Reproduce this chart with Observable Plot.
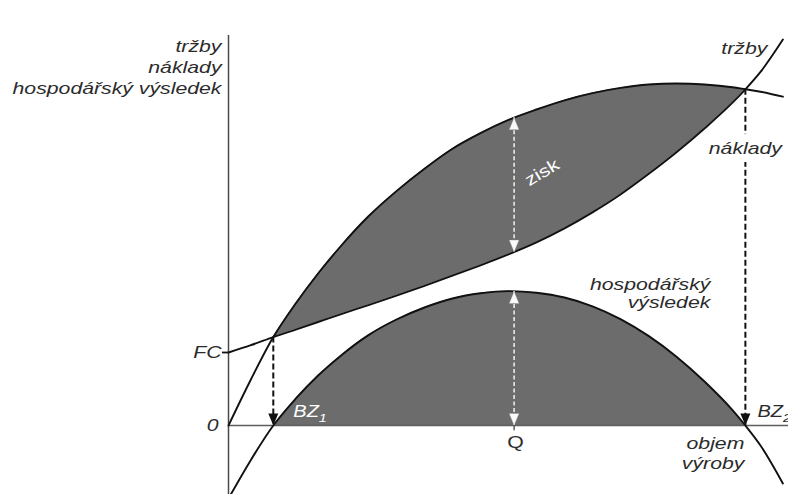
<!DOCTYPE html>
<html>
<head>
<meta charset="utf-8">
<script src="https://cdn.jsdelivr.net/npm/d3@7"></script>
<script src="https://cdn.jsdelivr.net/npm/@observablehq/plot@0.6"></script>
<style>
  body { margin: 0; background: #fff; }
  #chart svg { display: block; }
</style>
</head>
<body>
<div id="chart"></div>
<script>
// ---- data (quantity units / money units) ----
const quantity = [0, 4, 8, 12, 16, 20, 25, 30, 35, 40, 45, 50, 55, 60, 65, 70, 75, 80, 85, 90, 92.3, 95, 99];
const revenue  = [0, 11.5, 22.1, 30.5, 38, 44.75, 52.3, 58.6, 64.2, 69.2, 73.1, 76.4, 79, 81.3, 83.1, 84.4, 85.25, 85.5, 85.25, 84.55, 84.05, 83.45, 82.2];
const costs    = [18.25, 20.08, 22.1, 23.98, 25.88, 27.8, 30.1, 32.48, 34.93, 37.45, 40.05, 42.78, 45.78, 49.28, 53.28, 57.75, 62.85, 68.3, 74.25, 80.7, 84.05, 88.4, 96.5];
const result   = [-18.25, -8.6, 0, 6.7, 12.5, 17.4, 22.6, 26.5, 29.5, 31.75, 33.05, 33.6, 33.2, 32.0, 29.8, 26.6, 22.4, 17.2, 11, 3.85, 0, -5, -14.5];
const fixedCosts = 18.25;
const breakEven = [8, 92.3];      // BZ1, BZ2
const optimum = 51;               // Q

const axisTitle = "tržby\nnáklady\nhospodářský výsledek";
const seriesLabels = ["tržby", "náklady", "hospodářský\nvýsledek"];
const xTitle = "objem\nvýroby";
const profitLabel = "zisk";
const pointLabels = ["BZ", "1", "2", "Q", "FC", "0"];

// ---- derived tables ----
const rows = quantity.map((q, i) => ({q, revenue: revenue[i], costs: costs[i], result: result[i]}));
const inside = rows.filter(d => d.q >= breakEven[0] && d.q <= breakEven[1]);
const at = (arr, u) => {
  const i = Math.max(1, d3.bisectLeft(quantity, u));
  const t = (u - quantity[i - 1]) / (quantity[i] - quantity[i - 1]);
  return arr[i - 1] + t * (arr[i] - arr[i - 1]);
};
const blackArrows = breakEven.map(b => ({x: b, top: at(revenue, b), bottom: 0}));
const whiteArrows = [
  {x: optimum, top: at(revenue, optimum), bottom: at(costs, optimum)},
  {x: optimum, top: at(result, optimum), bottom: 0}
];

const headDown = {draw(ctx) { ctx.moveTo(0, 0); ctx.lineTo(-5, -12); ctx.lineTo(5, -12); ctx.closePath(); }};
const headUp   = {draw(ctx) { ctx.moveTo(0, 0); ctx.lineTo(-5, 12); ctx.lineTo(5, 12); ctx.closePath(); }};

const FONT = "Liberation Sans, Arial, Helvetica, sans-serif";
const ink = "#2b2b2b";
const txt = {fontFamily: FONT, fontSize: 17, fontStyle: "italic", fill: ink};
const shade = "#6c6c6c";
const one = (v) => [v];

const chart = Plot.plot({
  width: 788,
  height: 494,
  marginLeft: 228,
  marginRight: 0,
  marginTop: 35,
  marginBottom: 0,
  x: {domain: [0, 100], axis: null},
  y: {domain: [-17.25, 97.5], axis: null},
  style: {background: "white", overflow: "visible"},
  marks: [
    Plot.areaY(inside, {x: "q", y1: "costs", y2: "revenue", fill: shade, curve: "monotone-x"}),
    Plot.areaY(inside, {x: "q", y1: () => 0, y2: "result", fill: shade, curve: "monotone-x"}),
    Plot.ruleY([0], {stroke: "#5e5e5e", strokeWidth: 1.5}),
    Plot.ruleX([0], {stroke: "#4a4a4a", strokeWidth: 1.5}),
    Plot.line(rows, {x: "q", y: "revenue", stroke: "#111", strokeWidth: 1.9, curve: "monotone-x"}),
    Plot.line(rows, {x: "q", y: "costs", stroke: "#111", strokeWidth: 1.9, curve: "monotone-x"}),
    Plot.line(rows, {x: "q", y: "result", stroke: "#111", strokeWidth: 1.9, curve: "monotone-x"}),

    // y-axis ticks FC and 0
    Plot.axisY([fixedCosts], {tickSize: 6, tickPadding: 1, tickFormat: () => pointLabels[4], label: null,
      stroke: "#111", strokeWidth: 1.8, fontFamily: FONT, fontSize: 17, fontStyle: "italic", fill: ink}),
    Plot.axisY([0], {tickSize: 0, tickPadding: 10, tickFormat: () => pointLabels[5], label: null,
      fontFamily: FONT, fontSize: 17, fontStyle: "italic", fill: ink}),

    // Q tick and label
    Plot.ruleX([optimum], {y1: () => 0, y2: () => -1.3, stroke: "#333", strokeWidth: 1.2}),
    Plot.text(one(pointLabels[3]), {x: () => optimum, y: () => 0, text: d => d, dx: 1.5, dy: 17,
      fontFamily: FONT, fontSize: 17, fill: ink}),

    // black dashed arrows at break-even points
    Plot.ruleX(blackArrows, {x: "x", y1: "top", y2: "bottom", stroke: "#111", strokeWidth: 2, strokeDasharray: "6,3"}),
    Plot.dot(blackArrows, {x: "x", y: "bottom", symbol: headDown, fill: "#111", stroke: "none"}),

    // white double arrows at Q
    Plot.ruleX(whiteArrows, {x: "x", y1: "top", y2: "bottom", stroke: "#f2f2f2", strokeWidth: 1.5, strokeDasharray: "4,2.5"}),
    Plot.dot(whiteArrows, {x: "x", y: "top", symbol: headUp, fill: "#fafafa", stroke: "#888", strokeWidth: 0.4}),
    Plot.dot(whiteArrows, {x: "x", y: "bottom", symbol: headDown, fill: "#fafafa", stroke: "#888", strokeWidth: 0.4}),

    // axis title (top left)
    Plot.text(one(axisTitle), {frameAnchor: "top-left", text: d => d, textAnchor: "end", lineAnchor: "middle",
      lineHeight: 1.22, dx: -7, dy: 31, ...txt}),

    // series labels
    Plot.text(one(seriesLabels[0]), {x: () => breakEven[1], y: () => at(revenue, breakEven[1]), text: d => d,
      textAnchor: "end", dx: 22, dy: -40.5, ...txt}),
    Plot.text(one(seriesLabels[1]), {x: () => breakEven[1], y: () => at(revenue, breakEven[1]), text: d => d,
      textAnchor: "middle", dx: 0, dy: 59.5, stroke: "white", strokeWidth: 16, ...txt}),
    Plot.text(one(seriesLabels[2]), {x: () => breakEven[1], y: () => 0, text: d => d,
      textAnchor: "end", lineAnchor: "middle", lineHeight: 1.08, dx: -35, dy: -132.5, ...txt}),
    Plot.text(one(xTitle), {x: () => breakEven[1], y: () => 0, text: d => d,
      textAnchor: "end", lineAnchor: "middle", lineHeight: 1.18, dx: -1, dy: 26.7, ...txt}),

    // zisk
    Plot.text(one(profitLabel), {x: () => optimum, y: () => (at(revenue, optimum) + at(costs, optimum)) / 2,
      text: d => d, rotate: -31, dx: 28, dy: -12.4, fontFamily: FONT, fontSize: 17, fill: "white"}),

    // BZ1 (white, inside shaded area) and BZ2 (dark)
    Plot.text(one(pointLabels[0]), {x: () => breakEven[0], y: () => 0, text: d => d, textAnchor: "start",
      dx: 20, dy: -13.3, fontFamily: FONT, fontSize: 16, fontStyle: "italic", fill: "white"}),
    Plot.text(one(pointLabels[1]), {x: () => breakEven[0], y: () => 0, text: d => d, textAnchor: "start",
      dx: 45.5, dy: -7.3, fontFamily: FONT, fontSize: 11.5, fontStyle: "italic", fill: "white"}),
    Plot.text(one(pointLabels[0]), {x: () => breakEven[1], y: () => 0, text: d => d, textAnchor: "start",
      dx: 12, dy: -13.3, fontFamily: FONT, fontSize: 16, fontStyle: "italic", fill: ink}),
    Plot.text(one(pointLabels[2]), {x: () => breakEven[1], y: () => 0, text: d => d, textAnchor: "start",
      dx: 37.5, dy: -7.3, fontFamily: FONT, fontSize: 11.5, fontStyle: "italic", fill: ink})
  ]
});

document.getElementById("chart").append(chart);

// the reference lettering is horizontally widened; widen each text along its baseline
const STRETCH = 1.25;
chart.querySelectorAll("text").forEach(t => {
  const tr = t.getAttribute("transform");
  if (tr != null) t.setAttribute("transform", `${tr} scale(${STRETCH},1)`);
});
</script>
</body>
</html>
